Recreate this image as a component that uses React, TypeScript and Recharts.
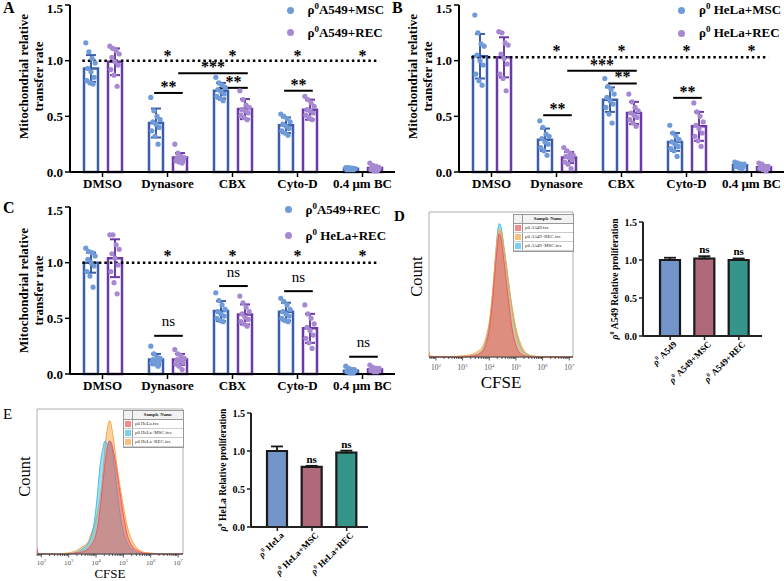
import React from 'react';
import {
  ComposedChart,
  BarChart,
  AreaChart,
  Bar,
  Area,
  Scatter,
  XAxis,
  YAxis,
  ErrorBar,
  ReferenceLine,
  ReferenceDot,
  ReferenceArea,
  LabelList,
  Cell,
} from 'recharts';

// ---------- transfer-rate panels (A, B, C) ----------
const treatments = ['DMSO', 'Dynasore', 'CBX', 'Cyto-D', '0.4 μm BC'];
const transferTicks = [0, 0.5, 1, 1.5];

const aMscMean = [0.93, 0.44, 0.73, 0.42, 0.03];
const aMscSd = [0.12, 0.13, 0.07, 0.07, 0.01];
const aRecMean = [0.99, 0.13, 0.565, 0.56, 0.035];
const aRecSd = [0.12, 0.04, 0.09, 0.09, 0.02];
const aMscPts = [
  [1.16, 1.08, 1.02, 0.98, 0.93, 0.9, 0.85, 0.82, 0.8, 0.79],
  [0.67, 0.55, 0.5, 0.47, 0.45, 0.43, 0.4, 0.37, 0.32, 0.25],
  [0.85, 0.8, 0.78, 0.76, 0.74, 0.72, 0.7, 0.68, 0.66, 0.64],
  [0.52, 0.5, 0.48, 0.45, 0.43, 0.41, 0.39, 0.37, 0.35, 0.33],
  [0.04, 0.04, 0.035, 0.03, 0.03, 0.03, 0.025, 0.02, 0.02, 0.02],
];
const aRecPts = [
  [1.13, 1.11, 1.09, 1.06, 1.03, 0.99, 0.96, 0.92, 0.87, 0.77],
  [0.25, 0.17, 0.14, 0.13, 0.13, 0.12, 0.11, 0.1, 0.09, 0.08],
  [0.73, 0.65, 0.6, 0.58, 0.56, 0.55, 0.53, 0.51, 0.49, 0.47],
  [0.68, 0.65, 0.62, 0.59, 0.56, 0.55, 0.53, 0.51, 0.49, 0.47],
  [0.08, 0.06, 0.05, 0.04, 0.03, 0.03, 0.02, 0.02, 0.01, 0.01],
];

const bMscMean = [1.04, 0.29, 0.65, 0.27, 0.06];
const bMscSd = [0.2, 0.1, 0.11, 0.08, 0.015];
const bRecMean = [1.03, 0.13, 0.53, 0.41, 0.042];
const bRecSd = [0.18, 0.05, 0.1, 0.13, 0.02];
const bMscPts = [
  [1.41, 1.25, 1.15, 1.13, 1.05, 1.0, 0.96, 0.88, 0.82, 0.78],
  [0.46, 0.4, 0.34, 0.32, 0.3, 0.27, 0.25, 0.22, 0.19, 0.15],
  [0.84, 0.77, 0.74, 0.7, 0.67, 0.64, 0.61, 0.58, 0.52, 0.44],
  [0.42, 0.35, 0.32, 0.29, 0.27, 0.25, 0.23, 0.21, 0.19, 0.14],
  [0.09, 0.08, 0.07, 0.07, 0.06, 0.06, 0.05, 0.05, 0.04, 0.03],
];
const bRecPts = [
  [1.26, 1.25, 1.16, 1.14, 1.06, 1.02, 0.97, 0.88, 0.84, 0.73],
  [0.22, 0.19, 0.17, 0.15, 0.14, 0.13, 0.11, 0.09, 0.07, 0.03],
  [0.7, 0.63, 0.58, 0.55, 0.53, 0.51, 0.49, 0.47, 0.44, 0.41],
  [0.62, 0.54, 0.5, 0.45, 0.42, 0.39, 0.35, 0.32, 0.28, 0.23],
  [0.08, 0.07, 0.05, 0.05, 0.04, 0.04, 0.03, 0.03, 0.02, 0.01],
];

const cA549Mean = [1.0, 0.13, 0.565, 0.56, 0.03];
const cA549Sd = [0.09, 0.05, 0.09, 0.08, 0.02];
const cHelaMean = [1.04, 0.13, 0.535, 0.41, 0.04];
const cHelaSd = [0.17, 0.05, 0.09, 0.13, 0.02];
const cA549Pts = [
  [1.13, 1.1, 1.09, 1.06, 1.03, 1.0, 0.97, 0.92, 0.88, 0.78],
  [0.25, 0.18, 0.15, 0.14, 0.13, 0.12, 0.11, 0.1, 0.09, 0.07],
  [0.73, 0.66, 0.62, 0.58, 0.56, 0.54, 0.52, 0.5, 0.48, 0.47],
  [0.68, 0.65, 0.62, 0.58, 0.56, 0.54, 0.52, 0.5, 0.48, 0.47],
  [0.07, 0.05, 0.04, 0.03, 0.03, 0.03, 0.02, 0.02, 0.01, 0.01],
];
const cHelaPts = [
  [1.25, 1.25, 1.16, 1.12, 1.08, 1.04, 0.98, 0.92, 0.82, 0.72],
  [0.22, 0.18, 0.16, 0.14, 0.13, 0.12, 0.1, 0.09, 0.07, 0.04],
  [0.7, 0.64, 0.6, 0.56, 0.54, 0.51, 0.49, 0.47, 0.45, 0.43],
  [0.62, 0.54, 0.5, 0.45, 0.42, 0.39, 0.35, 0.32, 0.28, 0.23],
  [0.08, 0.06, 0.05, 0.05, 0.04, 0.04, 0.03, 0.03, 0.02, 0.02],
];

type Bracket = { from: [number, number]; to: [number, number]; y: number; label: string };

const aBrackets: Bracket[] = [
  { from: [1, 0], to: [1, 1], y: 0.71, label: '**' },
  { from: [1, 1], to: [2, 1], y: 0.886, label: '***' },
  { from: [2, 0], to: [2, 1], y: 0.756, label: '**' },
  { from: [3, 0], to: [3, 1], y: 0.73, label: '**' },
];
const bBrackets: Bracket[] = [
  { from: [1, 0], to: [1, 1], y: 0.51, label: '**' },
  { from: [1, 1], to: [2, 1], y: 0.91, label: '***' },
  { from: [2, 0], to: [2, 1], y: 0.795, label: '**' },
  { from: [3, 0], to: [3, 1], y: 0.666, label: '**' },
];
const cBrackets: Bracket[] = [
  { from: [1, 0], to: [1, 1], y: 0.343, label: 'ns' },
  { from: [2, 0], to: [2, 1], y: 0.79, label: 'ns' },
  { from: [3, 0], to: [3, 1], y: 0.744, label: 'ns' },
  { from: [4, 0], to: [4, 1], y: 0.155, label: 'ns' },
];
const starCats = [1, 2, 3, 4];

// ---------- proliferation (D, E) ----------
const a549Groups = ['A549', 'A549+MSC', 'A549+REC'];
const a549Prolif = [1.0, 1.02, 1.0];
const a549ProlifErr = [0.03, 0.03, 0.02];
const a549Sig = ['', 'ns', 'ns'];
const helaGroups = ['HeLa', 'HeLa+MSC', 'HeLa+REC'];
const helaProlif = [1.0, 0.79, 0.98];
const helaProlifErr = [0.06, 0.015, 0.025];
const helaSig = ['', 'ns', 'ns'];

// ---------- CFSE histograms (log10 of fluorescence, relative count) ----------
const cfseMajor = [1e2, 1e3, 1e4, 1e5, 1e6, 1e7];
const dLog = [1.74, 1.8, 2.5, 3.0, 3.3, 3.5, 3.65, 3.8, 3.9, 4.0, 4.1, 4.2, 4.3, 4.37, 4.45, 4.55, 4.65, 4.75, 4.85, 5.0, 5.2, 5.4, 5.7, 6.5, 7.14];
const dA549 = [0.01, 0, 0, 0, 0.005, 0.01, 0.025, 0.05, 0.1, 0.19, 0.34, 0.55, 0.76, 0.85, 0.81, 0.66, 0.5, 0.34, 0.2, 0.08, 0.02, 0.005, 0, 0, 0];
const dA549Rec = [0.04, 0.005, 0.003, 0.008, 0.015, 0.03, 0.05, 0.09, 0.15, 0.24, 0.4, 0.62, 0.82, 0.88, 0.86, 0.75, 0.62, 0.48, 0.35, 0.2, 0.08, 0.025, 0.005, 0, 0];
const dA549Msc = [0.01, 0, 0, 0.003, 0.008, 0.015, 0.03, 0.07, 0.13, 0.22, 0.38, 0.6, 0.84, 0.92, 0.89, 0.76, 0.62, 0.47, 0.34, 0.18, 0.06, 0.02, 0.005, 0, 0];
const eLog = [1.84, 1.9, 2.5, 3.0, 3.3, 3.5, 3.7, 3.82, 3.94, 4.06, 4.14, 4.24, 4.33, 4.42, 4.5, 4.6, 4.7, 4.8, 4.9, 5.0, 5.13, 5.3, 5.5, 5.8, 6.5, 7.18];
const eHela = [0.04, 0, 0, 0, 0.008, 0.015, 0.035, 0.06, 0.1, 0.19, 0.3, 0.47, 0.63, 0.74, 0.78, 0.74, 0.64, 0.52, 0.39, 0.27, 0.14, 0.06, 0.025, 0.005, 0, 0];
const eHelaMsc = [0.01, 0, 0, 0.003, 0.012, 0.035, 0.07, 0.12, 0.23, 0.43, 0.6, 0.72, 0.78, 0.76, 0.78, 0.71, 0.55, 0.39, 0.25, 0.15, 0.08, 0.035, 0.01, 0, 0, 0];
const eHelaRec = [0.01, 0, 0, 0.008, 0.025, 0.05, 0.08, 0.14, 0.2, 0.29, 0.38, 0.53, 0.74, 0.87, 0.92, 0.84, 0.7, 0.56, 0.44, 0.33, 0.2, 0.1, 0.04, 0.01, 0, 0];

const MSC_LINE = '#3C5DA9';
const MSC_DOT = '#6F9BD8';
const REC_LINE = '#6A3BA5';
const REC_DOT = '#A689D1';
const RED = '#EE5A5F';
const ORANGE = '#F6A646';
const CYAN = '#45BDE6';
const prolifColors = ['#7394C8', '#B0697B', '#35958B'];

const BAR_SHIFT = 0.185;
const barX = (cat: number, s: number) => cat + 0.5 + (s === 0 ? -BAR_SHIFT : BAR_SHIFT);
const jitter = (j: number) => (((j * 3) % 10) - 4.5) * 0.016;

const dotShape = (color: string) => (p: any) => <circle cx={p.cx} cy={p.cy} r={2.6} fill={color} />;

const TransferYLabel = (shift: number) => (props: any) => {
  const vb = props.viewBox || { x: 0, y: 5, width: 70, height: 167 };
  const cy = vb.y + vb.height / 2 + shift;
  return (
    <g fontSize={13} fontWeight="bold" fill="#000">
      <text x={27.5} y={cy} transform={`rotate(-90 27.5 ${cy})`} textAnchor="middle">
        Mitochondrial relative
      </text>
      <text x={42.5} y={cy} transform={`rotate(-90 42.5 ${cy})`} textAnchor="middle">
        transfer rate
      </text>
    </g>
  );
};

function TransferChart(props: {
  width: number;
  m0: number[];
  sd0: number[];
  m1: number[];
  sd1: number[];
  p0: number[][];
  p1: number[][];
  refY: number;
  starY: number;
  brackets: Bracket[];
  labelShift: number;
}) {
  const { width, m0, sd0, m1, sd1, p0, p1, refY, starY, brackets, labelShift } = props;
  const rows = treatments.map((name, i) => ({ name, s0: m0[i], sd0: sd0[i], s1: m1[i], sd1: sd1[i] }));
  const pts = (groups: number[][], s: number) =>
    groups.flatMap((vals, i) => vals.map((y, j) => ({ x: barX(i, s) + jitter(j), y })));
  return (
    <ComposedChart
      width={width}
      height={200}
      data={rows}
      margin={{ top: 5, right: width - 70 - 325, bottom: 0, left: 0 }}
      barGap={10}
    >
      <XAxis
        xAxisId="cat"
        dataKey="name"
        height={28}
        interval={0}
        tickSize={5}
        tickLine={{ stroke: '#000', strokeWidth: 1.5 }}
        axisLine={{ stroke: '#000', strokeWidth: 2 }}
        tick={{ fill: '#000', fontSize: 13, fontWeight: 'bold' }}
      />
      <XAxis xAxisId="num" type="number" dataKey="x" domain={[0, 5]} allowDataOverflow hide />
      <YAxis
        width={70}
        domain={[0, 1.5]}
        ticks={transferTicks}
        tickFormatter={(v: number) => v.toFixed(1)}
        tickSize={5}
        tickLine={{ stroke: '#000', strokeWidth: 1.5 }}
        axisLine={{ stroke: '#000', strokeWidth: 2 }}
        tick={{ fill: '#000', fontSize: 13, fontWeight: 'bold' }}
        label={TransferYLabel(labelShift)}
      />
      <ReferenceLine
        xAxisId="num"
        segment={[{ x: 0.19, y: refY }, { x: 4.76, y: refY }]}
        stroke="#000"
        strokeWidth={2.5}
        strokeDasharray="2.5 3"
      />
      <Bar xAxisId="cat" dataKey="s0" barSize={14} fill="none" stroke={MSC_LINE} strokeWidth={2.5} isAnimationActive={false}>
        <ErrorBar dataKey="sd0" width={5} stroke={MSC_LINE} strokeWidth={2} direction="y" />
      </Bar>
      <Bar xAxisId="cat" dataKey="s1" barSize={14} fill="none" stroke={REC_LINE} strokeWidth={2.5} isAnimationActive={false}>
        <ErrorBar dataKey="sd1" width={5} stroke={REC_LINE} strokeWidth={2} direction="y" />
      </Bar>
      <Scatter xAxisId="num" data={pts(p0, 0)} dataKey="y" shape={dotShape(MSC_DOT)} isAnimationActive={false} />
      <Scatter xAxisId="num" data={pts(p1, 1)} dataKey="y" shape={dotShape(REC_DOT)} isAnimationActive={false} />
      {brackets.map((b, k) => {
        const ns = b.label === 'ns';
        return (
          <ReferenceLine
            key={`br${k}`}
            xAxisId="num"
            segment={[
              { x: barX(b.from[0], b.from[1]) - 0.02, y: b.y },
              { x: barX(b.to[0], b.to[1]) + 0.05, y: b.y },
            ]}
            stroke="#000"
            strokeWidth={2}
            label={{
              value: b.label,
              position: 'top',
              offset: ns ? 9.5 : 1,
              fill: '#000',
              fontSize: ns ? 15 : 16,
              fontWeight: ns ? 'normal' : 'bold',
            }}
          />
        );
      })}
      {starCats.map((c) => (
        <ReferenceDot
          key={`st${c}`}
          xAxisId="num"
          x={c + 0.5}
          y={starY}
          r={0}
          fill="none"
          stroke="none"
          label={{ value: '*', position: 'center', fill: '#000', fontSize: 16, fontWeight: 'bold' }}
        />
      ))}
    </ComposedChart>
  );
}

const Rho = ({ size }: { size: number }) => (
  <>
    <tspan fontStyle="italic">ρ</tspan>
    <tspan fontSize={size * 0.65} dy={-size * 0.38}>0</tspan>
  </>
);

const RhoTick = (props: any) => {
  const { x, y, payload } = props;
  return (
    <text x={x} y={y} transform={`rotate(-45 ${x} ${y})`} textAnchor="end" fontSize={9} fontWeight="bold" fill="#000" dx={3} dy={7}>
      <Rho size={9} />
      <tspan dy={9 * 0.38}>{' ' + payload.value}</tspan>
    </text>
  );
};

const ProlifYLabel = (cell: string) => (props: any) => {
  const vb = props.viewBox || { x: 0, y: 12, width: 53, height: 114 };
  const cx = vb.x + 28;
  const cy = vb.y + vb.height / 2;
  return (
    <text x={cx} y={cy} transform={`rotate(-90 ${cx} ${cy})`} textAnchor="middle" fontSize={9.5} fontWeight="bold" fill="#000">
      <Rho size={9.5} />
      <tspan dy={9.5 * 0.38}>{` ${cell}  Relative proliferation`}</tspan>
    </text>
  );
};

function ProlifChart(props: {
  width: number;
  groups: string[];
  values: number[];
  errs: number[];
  sig: string[];
  cell: string;
  padding: { left: number; right: number };
}) {
  const { width, groups, values, errs, sig, cell, padding } = props;
  const rows = groups.map((name, i) => ({ name, value: values[i], err: errs[i], sig: sig[i] }));
  const SigLabel = (p: any) => {
    const vb = p.viewBox && p.viewBox.width !== undefined ? p.viewBox : p;
    const i = p.index;
    if (!rows[i] || !rows[i].sig) return null;
    const errTop = vb.y - (vb.height * rows[i].err) / rows[i].value;
    return (
      <text x={vb.x + vb.width / 2} y={errTop - 3} textAnchor="middle" fontSize={11} fontWeight="bold" fill="#000">
        {rows[i].sig}
      </text>
    );
  };
  return (
    <BarChart width={width} height={180} data={rows} margin={{ top: 12, right: 3, bottom: 0, left: 0 }}>
      <XAxis
        dataKey="name"
        padding={padding}
        height={54}
        interval={0}
        tick={<RhoTick />}
        tickSize={4}
        tickLine={{ stroke: '#222', strokeWidth: 1.5 }}
        axisLine={{ stroke: '#222', strokeWidth: 2 }}
      />
      <YAxis
        width={53}
        domain={[0, 1.5]}
        ticks={transferTicks}
        tickFormatter={(v: number) => v.toFixed(1)}
        tickSize={4}
        tickLine={{ stroke: '#222', strokeWidth: 1.5 }}
        axisLine={{ stroke: '#222', strokeWidth: 2 }}
        tick={{ fill: '#000', fontSize: 10, fontWeight: 'bold' }}
        label={ProlifYLabel(cell)}
      />
      <Bar dataKey="value" barSize={20} stroke="#1a1a1a" strokeWidth={2.2} isAnimationActive={false}>
        {rows.map((_, i) => (
          <Cell key={i} fill={prolifColors[i]} />
        ))}
        <ErrorBar dataKey={(d: any) => [0, d.err]} width={6} stroke="#1a1a1a" strokeWidth={1.8} direction="y" />
        <LabelList dataKey="sig" content={SigLabel} />
      </Bar>
    </BarChart>
  );
}

const cfseTicks = cfseMajor.flatMap((m) => [m, ...[2, 3, 4, 5, 6, 7, 8, 9].map((k) => (m / 10) * k)]).sort((a, b) => a - b);

const CfseTick = (props: any) => {
  const { x, y, payload, labelDy = 12.5, labelSize = 7.5 } = props;
  const lg = Math.log10(payload.value);
  const exp = Math.round(lg);
  const major = Math.abs(lg - exp) < 1e-6;
  return (
    <g>
      <line x1={x} x2={x} y1={y} y2={y + (major ? 3.5 : 2)} stroke="#333" strokeWidth={0.8} />
      {major && (
        <text x={x} y={y + labelDy} textAnchor="middle" fontSize={labelSize} fill="#555">
          10
          <tspan fontSize={labelSize * 0.67} dy={-3}>
            {exp}
          </tspan>
        </text>
      )}
    </g>
  );
};

function HistChart(props: {
  width: number;
  height: number;
  xLog: number[];
  series: { key: string; values: number[]; color: string }[];
  cfseDy: number;
  cfseSize: number;
  countShift: number;
  tickDy: number;
  tickSize: number;
}) {
  const { width, height, xLog, series, cfseDy, cfseSize, countShift, tickDy, tickSize } = props;
  const rows = xLog.map((lx, i) => {
    const r: any = { x: Math.pow(10, lx) };
    series.forEach((s) => (r[s.key] = s.values[i]));
    return r;
  });
  const domain = [Math.pow(10, xLog[0]), Math.pow(10, xLog[xLog.length - 1])];
  const CfseLabel = (p: any) => {
    const vb = p.viewBox;
    return (
      <text x={vb.x + vb.width / 2} y={vb.y + cfseDy} textAnchor="middle" fontSize={cfseSize} fill="#000">
        CFSE
      </text>
    );
  };
  const CountLabel = (p: any) => {
    const vb = p.viewBox;
    const cx = 21.5;
    const cy = vb.y + vb.height / 2 + countShift;
    return (
      <text x={cx} y={cy} transform={`rotate(-90 ${cx} ${cy})`} textAnchor="middle" fontSize={16.5} fill="#000">
        Count
      </text>
    );
  };
  return (
    <AreaChart width={width} height={height} data={rows} margin={{ top: 12, right: 7, bottom: 0, left: 0 }}>
      <XAxis
        dataKey="x"
        type="number"
        scale="log"
        domain={domain}
        allowDataOverflow
        ticks={cfseTicks.filter((t) => t >= domain[0] && t <= domain[1])}
        interval={0}
        tick={<CfseTick labelDy={tickDy} labelSize={tickSize} />}
        tickLine={false}
        tickSize={0}
        tickMargin={0}
        axisLine={{ stroke: '#444', strokeWidth: 1 }}
        height={height - 12 - 145}
        label={CfseLabel}
      />
      <YAxis width={29} domain={[0, 1]} tick={false} tickLine={false} axisLine={false} label={CountLabel} />
      <ReferenceArea x1={domain[0]} x2={domain[1]} y1={0} y2={1} fill="none" stroke="#9a9a9a" strokeWidth={0.8} />
      {series.map((s) => (
        <Area
          key={s.key}
          type="monotone"
          dataKey={s.key}
          stroke={s.color}
          strokeWidth={1}
          fill={s.color}
          fillOpacity={0.5}
          dot={false}
          activeDot={false}
          isAnimationActive={false}
        />
      ))}
    </AreaChart>
  );
}

const DotLegend = ({ left, top, rowH, items }: { left: number; top: number; rowH: number; items: { color: string; pre: string; text: string }[] }) => (
  <div style={{ position: 'absolute', left, top, fontSize: 13, fontWeight: 'bold' }}>
    {items.map((it) => (
      <div key={it.text} style={{ display: 'flex', alignItems: 'center', height: rowH, whiteSpace: 'nowrap' }}>
        <span style={{ width: 7, height: 7, borderRadius: '50%', background: it.color, marginRight: 14, flex: 'none' }} />
        <span>
          ρ<sup style={{ fontSize: 9, lineHeight: 0 }}>0</sup>
          {it.pre}
          {it.text}
        </span>
      </div>
    ))}
  </div>
);

const SampleLegend = ({ left, top, rows }: { left: number; top: number; rows: { color: string; name: string }[] }) => (
  <div
    style={{
      position: 'absolute',
      left,
      top,
      width: 59,
      border: '0.8px solid #999',
      background: '#fff',
      fontSize: 4.8,
      lineHeight: '8px',
      color: '#222',
    }}
  >
    <div style={{ display: 'flex', borderBottom: '0.8px solid #999', background: '#f2f2f2' }}>
      <div style={{ width: 8, borderRight: '0.8px solid #999' }} />
      <div style={{ flex: 1, textAlign: 'center', fontWeight: 'bold' }}>Sample Name</div>
    </div>
    {rows.map((r) => (
      <div key={r.name} style={{ display: 'flex', borderBottom: '0.8px solid #ccc', height: 8 }}>
        <div style={{ width: 8, borderRight: '0.8px solid #999', display: 'flex', alignItems: 'center', justifyContent: 'center' }}>
          <div style={{ width: 4.5, height: 4.5, background: r.color, opacity: 0.7, border: `0.6px solid ${r.color}` }} />
        </div>
        <div style={{ flex: 1, paddingLeft: 2 }}>{r.name}</div>
      </div>
    ))}
  </div>
);

export default function App() {
  return (
    <div
      style={{
        position: 'absolute',
        left: 0,
        top: 0,
        width: 784,
        height: 581,
        overflow: 'hidden',
        background: '#fff',
        color: '#000',
        fontFamily: "'Liberation Serif', 'Times New Roman', serif",
      }}
    >
      <div style={{ position: 'absolute', left: 0, top: 0 }}>
        <TransferChart width={400} m0={aMscMean} sd0={aMscSd} m1={aRecMean} sd1={aRecSd} p0={aMscPts} p1={aRecPts} refY={1.0} starY={1.051} brackets={aBrackets} labelShift={-12} />
      </div>
      <div style={{ position: 'absolute', left: 389, top: 0 }}>
        <TransferChart width={395} m0={bMscMean} sd0={bMscSd} m1={bRecMean} sd1={bRecSd} p0={bMscPts} p1={bRecPts} refY={1.03} starY={1.094} brackets={bBrackets} labelShift={-12} />
      </div>
      <div style={{ position: 'absolute', left: 0, top: 202 }}>
        <TransferChart width={400} m0={cA549Mean} sd0={cA549Sd} m1={cHelaMean} sd1={cHelaSd} p0={cA549Pts} p1={cHelaPts} refY={1.0} starY={1.065} brackets={cBrackets} labelShift={0} />
      </div>

      <DotLegend left={286.5} top={-1} rowH={22.5} items={[{ color: MSC_DOT, pre: '', text: 'A549+MSC' }, { color: REC_DOT, pre: '', text: 'A549+REC' }]} />
      <DotLegend left={678} top={-1.5} rowH={23} items={[{ color: MSC_DOT, pre: ' ', text: 'HeLa+MSC' }, { color: REC_DOT, pre: ' ', text: 'HeLa+REC' }]} />
      <DotLegend left={284.5} top={197} rowH={25.7} items={[{ color: MSC_DOT, pre: '', text: 'A549+REC' }, { color: REC_DOT, pre: ' ', text: 'HeLa+REC' }]} />

      <div style={{ position: 'absolute', left: 400, top: 200 }}>
        <HistChart
          width={180}
          height={196}
          xLog={dLog}
          series={[
            { key: 'msc', values: dA549Msc, color: CYAN },
            { key: 'rec', values: dA549Rec, color: ORANGE },
            { key: 'ctl', values: dA549, color: RED },
          ]}
          cfseDy={31}
          cfseSize={17}
          countShift={-8}
          tickDy={12.5}
          tickSize={7.5}
        />
      </div>
      <SampleLegend
        left={513}
        top={214}
        rows={[
          { color: RED, name: 'ρ0 A549.fcs' },
          { color: ORANGE, name: 'ρ0 A549+REC.fcs' },
          { color: CYAN, name: 'ρ0 A549+MSC.fcs' },
        ]}
      />
      <div style={{ position: 'absolute', left: 590, top: 210 }}>
        <ProlifChart width={175} groups={a549Groups} values={a549Prolif} errs={a549ProlifErr} sig={a549Sig} cell="A549" padding={{ left: 10, right: 6 }} />
      </div>

      <div style={{ position: 'absolute', left: 8, top: 397 }}>
        <HistChart
          width={182}
          height={184}
          xLog={eLog}
          series={[
            { key: 'rec', values: eHelaRec, color: ORANGE },
            { key: 'msc', values: eHelaMsc, color: CYAN },
            { key: 'ctl', values: eHela, color: RED },
          ]}
          cfseDy={24}
          cfseSize={13}
          countShift={-5}
          tickDy={10.5}
          tickSize={7}
        />
      </div>
      <SampleLegend
        left={123}
        top={410}
        rows={[
          { color: RED, name: 'ρ0 HeLa.fcs' },
          { color: CYAN, name: 'ρ0 HeLa+MSC.fcs' },
          { color: ORANGE, name: 'ρ0 HeLa+REC.fcs' },
        ]}
      />
      <div style={{ position: 'absolute', left: 198, top: 401 }}>
        <ProlifChart width={173} groups={helaGroups} values={helaProlif} errs={helaProlifErr} sig={helaSig} cell="HeLa" padding={{ left: 9, right: 4 }} />
      </div>

      <svg width={784} height={581} style={{ position: 'absolute', left: 0, top: 0, pointerEvents: 'none' }}>
        <g fontSize={16} fontWeight="bold" fill="#000">
          <text x={3} y={12.5}>A</text>
          <text x={392} y={12.5}>B</text>
          <text x={3} y={212.5}>C</text>
          <text x={394} y={220.5} fontSize={15}>D</text>
        </g>
        <text x={3} y={418.5} fontSize={15}>E</text>
      </svg>
    </div>
  );
}
